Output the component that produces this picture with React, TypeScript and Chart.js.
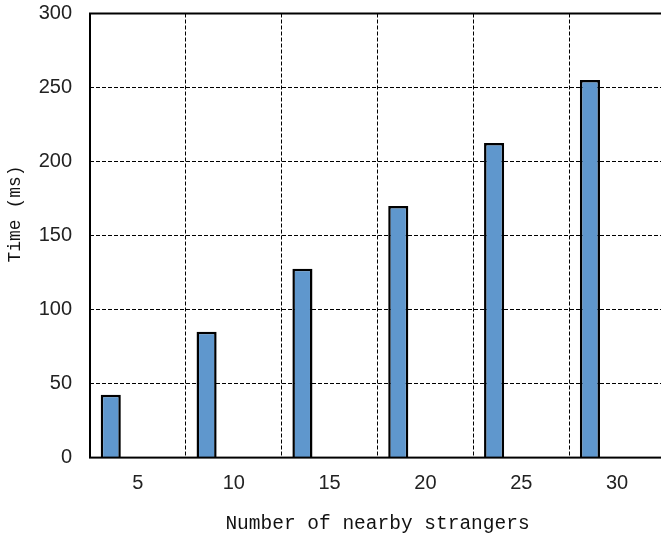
import React, { useEffect, useRef } from "react";
import { Chart, registerables } from "chart.js";

Chart.register(...registerables);

const categories = ["5", "10", "15", "20", "25", "30"];
const timeValues = [42.5, 85, 127.5, 170, 212.5, 255];
const emptySlotA = [null, null, null, null, null, null];
const emptySlotB = [null, null, null, null, null, null];
const yTicks = [0, 50, 100, 150, 200, 250, 300];

const framePlugin = {
  id: "frame",
  afterDatasetsDraw(chart: any) {
    const { ctx, chartArea } = chart;
    ctx.save();
    ctx.strokeStyle = "#000";
    ctx.lineWidth = 2;
    ctx.setLineDash([]);
    ctx.strokeRect(chartArea.left, chartArea.top, chartArea.right - chartArea.left, chartArea.bottom - chartArea.top);
    ctx.restore();
  },
};

export default function App() {
  const ref = useRef<HTMLCanvasElement>(null);
  useEffect(() => {
    if (!ref.current) return;
    const chart = new Chart(ref.current, {
      type: "bar",
      data: {
        labels: categories,
        datasets: [
          {
            data: timeValues,
            backgroundColor: "#5f97cd",
            borderColor: "#000",
            borderWidth: 2.5,
          },
          { data: emptySlotA as any, backgroundColor: "#5f97cd" },
          { data: emptySlotB as any, backgroundColor: "#5f97cd" },
        ],
      },
      options: {
        responsive: false,
        animation: false,
        categoryPercentage: 0.85,
        barPercentage: 0.74,
        layout: { padding: { top: 0, right: 15, bottom: 3, left: 0 } },
        plugins: { legend: { display: false }, tooltip: { enabled: false } },
        scales: {
          x: {
            offset: true,
            grid: { offset: true, color: "#000", lineWidth: 1, drawTicks: false },
            border: { display: false, dash: [4, 2] },
            ticks: { color: "#222", padding: 14, font: { family: "Liberation Sans", size: 20 } },
            title: {
              display: true,
              text: "Number of nearby strangers",
              color: "#111",
              font: { family: "Liberation Mono", size: 19.5 },
              padding: { top: 3, bottom: 0 },
            },
          },
          y: {
            min: 0,
            max: 300,
            afterBuildTicks: (scale: any) => {
              scale.ticks = yTicks.map((v) => ({ value: v }));
            },
            afterFit: (scale: any) => {
              scale.width = 90;
              scale.paddingTop = 13.5;
            },
            grid: { color: "#000", lineWidth: 1, drawTicks: false },
            border: { display: false, dash: [4, 2] },
            ticks: { color: "#222", padding: 18, font: { family: "Liberation Sans", size: 20 } },
            title: {
              display: true,
              text: "    Time (ms)",
              color: "#111",
              font: { family: "Liberation Mono", size: 18 },
              padding: { top: 4, bottom: 0 },
            },
          },
        },
      },
      plugins: [framePlugin],
    });
    return () => chart.destroy();
  }, []);
  return (
    <div style={{ position: "fixed", left: 0, top: 0, width: 680, height: 539, overflow: "hidden", background: "#fff" }}>
      <canvas ref={ref} width={680} height={539} />
    </div>
  );
}
